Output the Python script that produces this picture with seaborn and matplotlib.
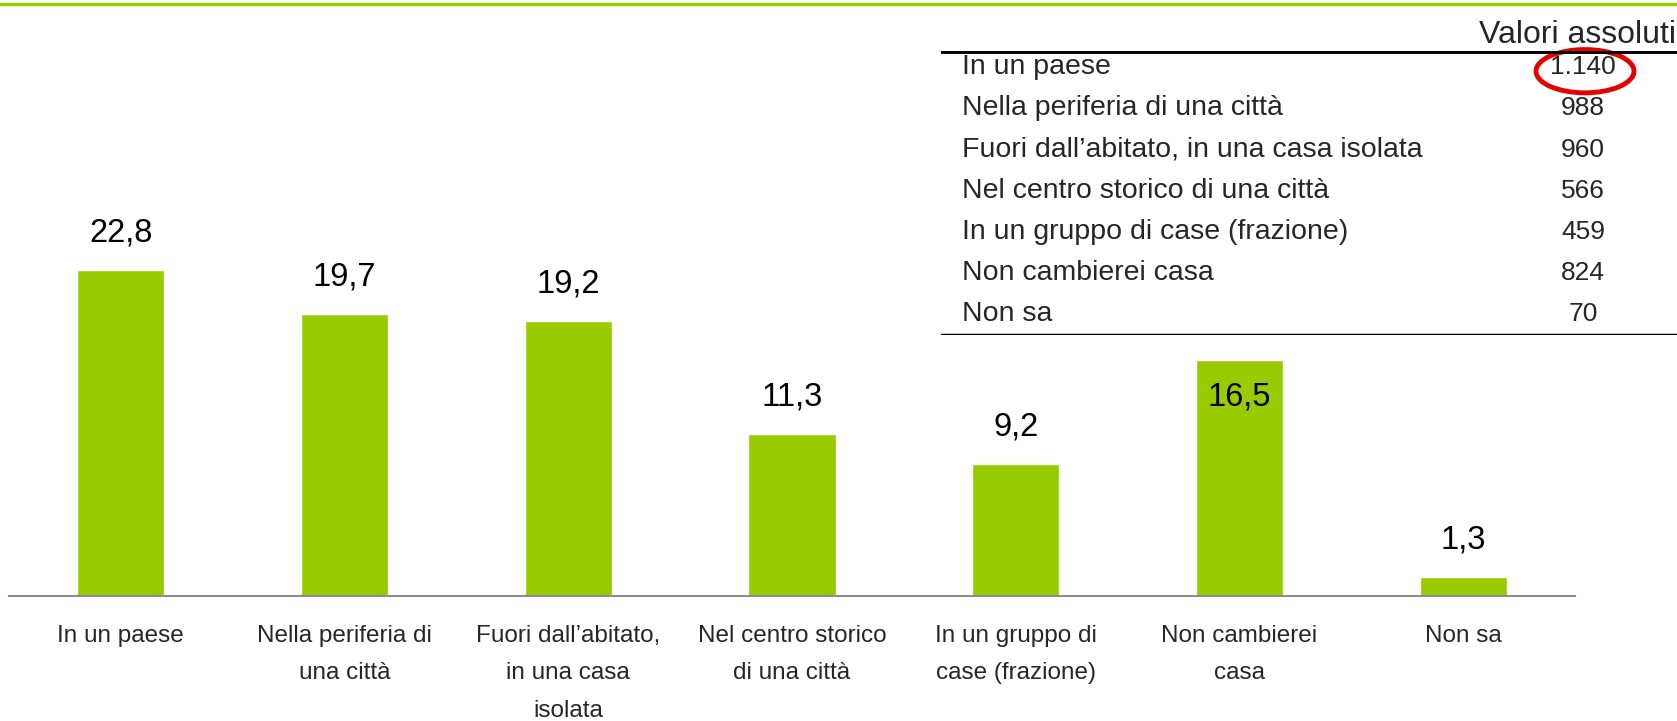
import matplotlib.pyplot as plt
import matplotlib.patches as mpatches
import pandas as pd
import seaborn as sns

categories = [
    "In un paese",
    "Nella periferia di\nuna città",
    "Fuori dall’abitato,\nin una casa\nisolata",
    "Nel centro storico\ndi una città",
    "In un gruppo di\ncase (frazione)",
    "Non cambierei\ncasa",
    "Non sa",
]
percent = [22.8, 19.7, 19.2, 11.3, 9.2, 16.5, 1.3]
label_inside = [False, False, False, False, False, True, False]

table_title = "Valori assoluti"
table_labels = [
    "In un paese",
    "Nella periferia di una città",
    "Fuori dall’abitato, in una casa isolata",
    "Nel centro storico di una città",
    "In un gruppo di case (frazione)",
    "Non cambierei casa",
    "Non sa",
]
table_values = [1140, 988, 960, 566, 459, 824, 70]
highlight_row = 0

GREEN = "#99cc00"


def fmt_it(v):
    return f"{v:,}".replace(",", ".")


def main() -> None:
    sns.set_style("white")
    plt.rcParams["font.family"] = ["Liberation Sans", "DejaVu Sans"]

    W, H = 1677, 721
    fig = plt.figure(figsize=(W / 100, H / 100), dpi=100)

    # main bar chart
    ax = fig.add_axes([9 / W, 1 - 596 / H, (1575 - 9) / W, (596 - 30) / H])
    df = pd.DataFrame({"cat": categories, "val": percent})
    sns.barplot(data=df, x="cat", y="val", color=GREEN, width=0.39,
                saturation=1, ax=ax)
    ax.set_xlim(-0.5, len(categories) - 0.5)
    ax.set_ylim(0, 39.55)
    ax.set_xlabel("")
    ax.set_ylabel("")
    ax.set_yticks([])
    for s in ["top", "right", "left"]:
        ax.spines[s].set_visible(False)
    ax.spines["bottom"].set_color("#8c8c8c")
    ax.spines["bottom"].set_linewidth(1.5)
    ax.tick_params(axis="x", length=0, pad=21)
    for lab in ax.get_xticklabels():
        lab.set_fontsize(17.5)
        lab.set_linespacing(1.9)
        lab.set_verticalalignment("top")

    for i, (v, inside) in enumerate(zip(percent, label_inside)):
        y = v - 2.6 if inside else v + 2.6
        ax.text(i, y, f"{v:.1f}".replace(".", ","), ha="center",
                va="center", fontsize=23.5, color="black")

    # top green rule
    fig.add_artist(plt.Line2D([0, 1], [1 - 3.5 / H, 1 - 3.5 / H],
                              color=GREEN, linewidth=2.5,
                              transform=fig.transFigure))

    # table of absolute values
    fig.text(1 - 1 / W, 1 - 35 / H, table_title, ha="right", va="center",
             fontsize=23)
    tx = fig.add_axes([941 / W, 1 - 335 / H, (W - 941) / W, (335 - 51) / H])
    tx.set_xlim(0, 1)
    top, bottom = -0.39, -0.39 + 6.89
    tx.set_ylim(bottom, top)
    tx.axis("off")
    tx.axhline(top, color="black", linewidth=3.5)
    tx.axhline(bottom, color="black", linewidth=2.5)
    num_x = (1583 - 941) / (W - 941)
    for i, (lab, v) in enumerate(zip(table_labels, table_values)):
        tx.text(21 / (W - 941), i, lab, ha="left", va="center",
                fontsize=20.5)
        tx.text(num_x, i, fmt_it(v), ha="center", va="center",
                fontsize=19)
    tx.add_patch(mpatches.Ellipse((num_x + 2 / (W - 941), highlight_row + 0.1),
                                  98 / (W - 941), 1.05,
                                  fill=False, edgecolor="#e60000",
                                  linewidth=3.5, clip_on=False))

    fig.savefig("out.png", dpi=100)


if __name__ == "__main__":
    main()
